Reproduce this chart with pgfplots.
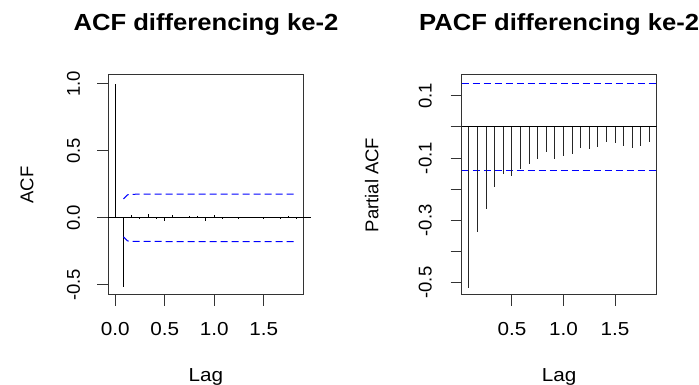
\documentclass[border=0pt]{standalone}
\usepackage{fontspec}
\setmainfont{Liberation Sans}[FakeStretch=1.1]
\newfontfamily\rotfont{Liberation Sans}
\usepackage{pgfplots}
\pgfplotsset{compat=1.18}
\definecolor{rblue}{RGB}{0,0,255}

\pgfplotstableread{
lag acf
0.00000 1.000
0.08333 -0.518
0.16667 0.025
0.25000 -0.010
0.33333 0.030
0.41667 0.002
0.50000 -0.020
0.58333 0.020
0.66667 0.003
0.75000 0.012
0.83333 0.012
0.91667 -0.020
1.00000 0.020
1.08333 0.002
1.16667 0.010
1.25000 -0.010
1.33333 0.010
1.41667 0.010
1.50000 -0.010
1.58333 0.003
1.66667 0.002
1.75000 0.012
1.83333 0.002
}\acftab

\pgfplotstableread{
lag pacf
0.08333 -0.516
0.16667 -0.337
0.25000 -0.265
0.33333 -0.193
0.41667 -0.151
0.50000 -0.159
0.58333 -0.136
0.66667 -0.118
0.75000 -0.102
0.83333 -0.081
0.91667 -0.102
1.00000 -0.094
1.08333 -0.086
1.16667 -0.067
1.25000 -0.072
1.33333 -0.064
1.41667 -0.048
1.50000 -0.051
1.58333 -0.060
1.66667 -0.067
1.75000 -0.060
1.83333 -0.048
}\pacftab

\pgfplotsset{
  rstyle/.style={
    scale only axis, anchor=south west,
    height=220pt,
    axis line style={black!80, line width=1pt},
    tick style={black!80, line width=1pt},
    major tick length=11pt, tick align=outside,
    xtick pos=left, ytick pos=left,
    xticklabel style={font=\fontsize{18.8}{22}\selectfont, anchor=base, yshift=-30pt},
    yticklabel style={font=\rotfont\fontsize{18.5}{22}\selectfont, rotate=90, anchor=base},
    yticklabel shift=17pt,
    every axis title/.style={at={(axis description cs:0.5,1)}, yshift=44.3pt, anchor=base, font=\bfseries\fontsize{23.3}{28}\selectfont},
    every axis x label/.style={at={(axis description cs:0.5,0)}, yshift=-86.7pt, anchor=base, font=\fontsize{18.8}{22}\selectfont},
    xlabel={Lag},
  },
  ci/.style={color=rblue, line width=1pt, dash pattern=on 7pt off 4pt, no marks},
}

\begin{document}
\begin{tikzpicture}
\path[use as bounding box] (0,0) rectangle (699pt,385pt);

\begin{axis}[rstyle,
  at={(108pt,90pt)}, width=196pt,
  xmin=-0.073, xmax=1.907, ymin=-0.575, ymax=1.065,
  xtick={0,0.5,1,1.5}, xticklabels={0.0,0.5,1.0,1.5},
  ytick={-0.5,0,0.5,1}, yticklabels={-0.5,0.0,0.5,1.0},
  title={ACF differencing ke-2},
  ylabel={ACF},
  every axis y label/.style={at={(axis description cs:0,0.5)}, xshift=-74.7pt, rotate=90, anchor=base, font=\rotfont\fontsize{18.5}{22}\selectfont},
  clip=false,
]
\addplot[color=black, line width=1pt, no marks] coordinates {(-0.073,0) (1.98,0)};
\addplot[ycomb, color=black, line width=1pt, no marks] table[x=lag, y=acf] {\acftab};
\addplot[ci] coordinates {(0.08333,0.141) (0.125,0.172) (0.16667,0.176) (1.83333,0.177)};
\addplot[ci] coordinates {(0.08333,-0.141) (0.125,-0.172) (0.16667,-0.176) (1.83333,-0.177)};
\end{axis}

\begin{axis}[rstyle,
  at={(461.7pt,90pt)}, width=195pt,
  xmin=0.0133, xmax=1.903, ymin=-0.540, ymax=0.167,
  xtick={0.5,1,1.5}, xticklabels={0.5,1.0,1.5},
  ytick={-0.5,-0.4,-0.3,-0.2,-0.1,0,0.1}, yticklabels={-0.5,{},-0.3,{},-0.1,{},0.1},
  yticklabel shift=19pt,
  title={PACF differencing ke-2},
  ylabel={Partial ACF},
  every axis y label/.style={at={(axis description cs:0,0.5)}, xshift=-83.4pt, rotate=90, anchor=base, font=\rotfont\fontsize{18.5}{22}\selectfont},
]
\addplot[ci] coordinates {(0.0133,0.141) (1.903,0.141)};
\addplot[ci] coordinates {(0.0133,-0.141) (1.903,-0.141)};
\addplot[color=black, line width=1pt, no marks] coordinates {(0.0133,0) (1.903,0)};
\addplot[ycomb, color=black!85, line width=1pt, no marks] table[x=lag, y=pacf] {\pacftab};
\end{axis}
\end{tikzpicture}
\end{document}
